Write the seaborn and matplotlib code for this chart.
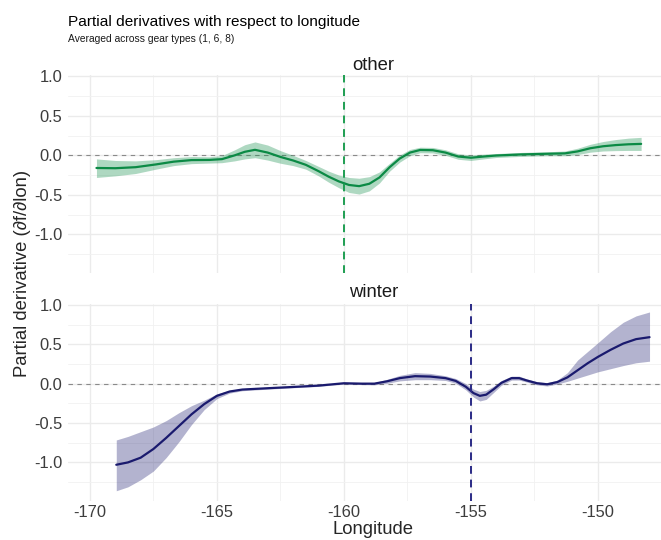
import matplotlib
matplotlib.use("Agg")
import matplotlib.pyplot as plt
import pandas as pd
import seaborn as sns

# --- data ---
other_lon = [-169.74, -169.0, -168.2, -167.4, -166.7, -166.0, -165.3, -164.8, -164.3, -163.9,
             -163.5, -163.0, -162.5, -162.0, -161.5, -161.0, -160.6, -160.2, -159.8, -159.4,
             -159.0, -158.6, -158.2, -157.8, -157.4, -157.0, -156.5, -156.0, -155.5, -155.0,
             -154.5, -154.0, -153.0, -152.0, -151.3, -150.8, -150.3, -149.8, -149.3, -148.8, -148.3]
other_est = [-0.16, -0.163, -0.15, -0.115, -0.08, -0.06, -0.058, -0.048, 0.0, 0.045,
             0.07, 0.035, -0.02, -0.065, -0.12, -0.2, -0.27, -0.33, -0.375, -0.39,
             -0.36, -0.28, -0.15, -0.04, 0.035, 0.068, 0.065, 0.035, -0.015, -0.03,
             -0.015, -0.002, 0.012, 0.02, 0.025, 0.05, 0.09, 0.115, 0.13, 0.14, 0.145]
other_lo = [-0.28, -0.26, -0.23, -0.175, -0.13, -0.105, -0.098, -0.093, -0.07, -0.045,
            -0.03, -0.06, -0.1, -0.13, -0.175, -0.26, -0.34, -0.41, -0.47, -0.49,
            -0.45, -0.35, -0.2, -0.085, -0.005, 0.033, 0.03, 0.0, -0.05, -0.065,
            -0.045, -0.027, -0.013, -0.005, -0.005, 0.01, 0.04, 0.055, 0.06, 0.062, 0.062]
other_hi = [-0.045, -0.065, -0.07, -0.055, -0.03, -0.015, -0.018, -0.003, 0.07, 0.135,
            0.17, 0.13, 0.06, 0.0, -0.065, -0.14, -0.2, -0.25, -0.28, -0.29,
            -0.27, -0.21, -0.1, 0.005, 0.075, 0.103, 0.1, 0.07, 0.02, 0.005,
            0.015, 0.023, 0.037, 0.045, 0.055, 0.09, 0.14, 0.175, 0.2, 0.218, 0.228]

winter_lon = [-168.96, -168.5, -168.0, -167.5, -167.0, -166.5, -166.0, -165.5, -165.0, -164.5,
              -164.0, -163.0, -162.0, -161.0, -160.0, -159.3, -158.8, -158.3, -157.8, -157.2,
              -156.6, -156.0, -155.6, -155.2, -154.9, -154.65, -154.4, -154.1, -153.8, -153.4,
              -153.1, -152.8, -152.4, -152.0, -151.6, -151.2, -150.8, -150.4, -150.0, -149.5,
              -149.0, -148.5, -147.97]
winter_est = [-1.03, -1.0, -0.94, -0.83, -0.69, -0.54, -0.39, -0.26, -0.155, -0.1,
              -0.075, -0.058, -0.042, -0.025, 0.005, 0.0, 0.0, 0.03, 0.07, 0.095,
              0.09, 0.07, 0.035, -0.04, -0.12, -0.155, -0.14, -0.07, 0.01, 0.07,
              0.07, 0.04, 0.005, -0.008, 0.02, 0.08, 0.17, 0.26, 0.34, 0.43,
              0.51, 0.565, 0.59]
winter_lo = [-1.36, -1.31, -1.22, -1.11, -0.94, -0.74, -0.52, -0.33, -0.19, -0.12,
             -0.09, -0.07, -0.052, -0.035, -0.005, -0.012, -0.015, 0.005, 0.035, 0.05,
             0.05, 0.04, 0.005, -0.08, -0.17, -0.22, -0.2, -0.11, -0.02, 0.045,
             0.045, 0.02, -0.015, -0.03, -0.005, 0.03, 0.07, 0.11, 0.15, 0.19,
             0.23, 0.265, 0.285]
winter_hi = [-0.715, -0.67, -0.61, -0.55, -0.47, -0.37, -0.28, -0.21, -0.13, -0.085,
             -0.062, -0.047, -0.033, -0.015, 0.015, 0.012, 0.015, 0.055, 0.105, 0.14,
             0.13, 0.1, 0.065, 0.0, -0.07, -0.1, -0.085, -0.03, 0.04, 0.095,
             0.095, 0.06, 0.025, 0.012, 0.045, 0.14, 0.3, 0.41, 0.52, 0.66,
             0.78, 0.86, 0.91]

panels = ["other", "winter"]
vline_at = {"other": -160, "winter": -155}
line_col = {"other": "#0b8a45", "winter": "#1a1a6e"}
vline_col = {"other": "#1f9e52", "winter": "#2a2a86"}

x_major = [-170, -165, -160, -155, -150]
x_minor = [-167.5, -162.5, -157.5, -152.5, -147.5]
y_major = [-1.0, -0.5, 0.0, 0.5, 1.0]
y_minor = [-1.25, -0.75, -0.25, 0.25, 0.75]

frames = {
    "other": pd.DataFrame({"lon": other_lon, "est": other_est, "lo": other_lo, "hi": other_hi}),
    "winter": pd.DataFrame({"lon": winter_lon, "est": winter_est, "lo": winter_lo, "hi": winter_hi}),
}

sns.set_style("white")
plt.rcParams["font.family"] = ["Liberation Sans", "DejaVu Sans"]
plt.rcParams["axes.unicode_minus"] = False

W, H = 661, 540
fig = plt.figure(figsize=(W / 100, H / 100), dpi=100)

# panel boxes in pixels: left, right, top, bottom
boxes = {"other": (67.5, 679, 75.2, 273), "winter": (67.5, 679, 303.7, 501)}
strip_y = {"other": 70, "winter": 297}

for name in panels:
    l, r, t, b = boxes[name]
    ax = fig.add_axes([l / W, (H - b) / H, (r - l) / W, (b - t) / H])
    df = frames[name]
    ax.set_axisbelow(True)
    ax.axhline(0, color="#8a8a8a", lw=0.8, ls=(0, (4, 4)), zorder=1.5)
    ax.fill_between(df["lon"], df["lo"], df["hi"], color=line_col[name], alpha=0.33,
                    lw=0, zorder=2)
    sns.lineplot(data=df, x="lon", y="est", ax=ax, color=line_col[name], lw=1.6, zorder=3)
    ax.axvline(vline_at[name], color=vline_col[name], lw=1.4, ls=(0, (4, 3)), zorder=4)

    ax.set_xlim(-170.88, -146.81)
    ax.set_ylim(-1.49, 1.015)
    xlabels = [str(v) for v in x_major] if name == "winter" else [""] * len(x_major)
    ax.set_xticks(x_major, labels=xlabels)
    ax.set_xticks(x_minor, minor=True)
    ax.set_yticks(y_major, labels=[f"{v:.1f}" for v in y_major])
    ax.set_yticks(y_minor, minor=True)
    ax.grid(True, which="major", color="#ebebeb", lw=1.0)
    ax.grid(True, which="minor", color="#f1f1f1", lw=0.6)
    ax.tick_params(which="both", length=0, labelsize=11.9, labelcolor="#3d3d3d")
    ax.tick_params(axis="y", pad=3.7)
    ax.tick_params(axis="x", pad=2.9)
    for s in ax.spines.values():
        s.set_visible(False)
    ax.set_xlabel("")
    ax.set_ylabel("")

    fig.text(((l + r) / 2) / W, (H - strip_y[name]) / H, name, ha="center",
             va="baseline", fontsize=13.3, color="#1a1a1a")

fig.text(68 / W, (H - 26) / H, "Partial derivatives with respect to longitude",
         ha="left", va="baseline", fontsize=11.1, color="#000000")
fig.text(68 / W, (H - 42.3) / H, "Averaged across gear types (1, 6, 8)",
         ha="left", va="baseline", fontsize=7.4, color="#1a1a1a")
fig.text(373.25 / W, (H - 534.3) / H, "Longitude", ha="center", va="baseline",
         fontsize=13.3)
fig.text(23 / W, (H - 273) / H, "Partial derivative (∂f/∂lon)", rotation=90,
         ha="center", va="center", fontsize=13.3)

fig.savefig("out.png", dpi=100)
